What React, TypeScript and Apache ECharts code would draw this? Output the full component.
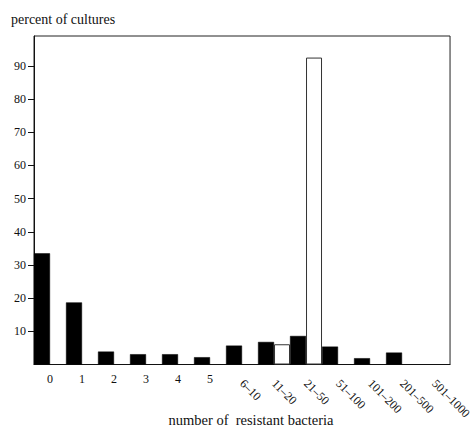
import React, { useEffect, useRef } from "react";
import * as echarts from "echarts";

const categories = ["0", "1", "2", "3", "4", "5", "6–10", "11–20", "21–50", "51–100", "101–200", "201–500", "501–1000"];
const blackValues = [33.5, 18.7, 3.9, 3.1, 3.1, 2.2, 5.7, 6.8, 8.6, 5.4, 1.9, 3.6, null];
const whiteValues = [null, null, null, null, null, null, null, 6.1, 92.5, null, null, null, null];
const yTicks = [10, 20, 30, 40, 50, 60, 70, 80, 90];
const horizontalCount = 6;

const FONT = "Liberation Serif";

export default function App() {
  const ref = useRef<HTMLDivElement>(null);
  useEffect(() => {
    if (!ref.current) return;
    const chart = echarts.init(ref.current, null, { renderer: "svg" });
    chart.setOption({
      animation: false,
      backgroundColor: "#fff",
      textStyle: { fontFamily: FONT },
      grid: {
        left: 34,
        right: 15,
        top: 36,
        bottom: 62.5,
        show: true,
        borderColor: "#222",
        borderWidth: 1,
      },
      xAxis: [
        {
          type: "category",
          data: categories,
          position: "bottom",
          axisLine: { show: true, lineStyle: { color: "#111", width: 1 } },
          axisTick: { show: false },
          splitLine: { show: false },
          axisLabel: {
            interval: 0,
            margin: 8,
            fontSize: 12,
            fontFamily: FONT,
            color: "#111",
            formatter: (v: string, i: number) => (i < horizontalCount ? v : ""),
          },
        },
        {
          type: "category",
          data: categories,
          position: "bottom",
          axisLine: { show: false },
          axisTick: { show: false },
          splitLine: { show: false },
          axisLabel: {
            interval: 0,
            rotate: -45,
            margin: 17,
            fontSize: 12,
            fontFamily: FONT,
            color: "#111",
            formatter: (v: string, i: number) => (i >= horizontalCount ? v : ""),
          },
        },
      ],
      yAxis: {
        type: "value",
        min: 0,
        max: 99,
        interval: 10,
        axisLine: { show: true, lineStyle: { color: "#111", width: 1 } },
        axisTick: {
          show: true,
          length: 6,
          inside: false,
          customValues: yTicks,
          lineStyle: { color: "#111" },
        },
        splitLine: { show: false },
        axisLabel: {
          margin: 8,
          fontSize: 12,
          fontFamily: FONT,
          color: "#111",
          customValues: yTicks,
          padding: [0, 0, 7, 0],
        },
      },
      series: [
        {
          type: "bar",
          data: blackValues,
          xAxisIndex: 0,
          barGap: "0%",
          barCategoryGap: "0%",
          itemStyle: { color: "#000", borderColor: "#000", borderWidth: 0.5 },
        },
        {
          type: "bar",
          data: whiteValues,
          xAxisIndex: 0,
          barGap: "0%",
          barCategoryGap: "0%",
          itemStyle: { color: "#fff", borderColor: "#333", borderWidth: 1 },
        },
      ],
      graphic: [
        {
          type: "text",
          left: 11,
          top: 12,
          style: {
            text: "percent of cultures",
            fontSize: 14,
            fontFamily: FONT,
            fill: "#111",
          },
        },
        {
          type: "text",
          x: 251,
          y: 420,
          style: {
            text: "number of  resistant bacteria",
            fontSize: 14.5,
            fontFamily: FONT,
            fill: "#111",
            align: "center",
            verticalAlign: "middle",
          },
        },
      ],
    });
    return () => chart.dispose();
  }, []);
  return (
    <div
      ref={ref}
      style={{ position: "fixed", left: 0, top: 0, width: 474, height: 427 }}
    />
  );
}
